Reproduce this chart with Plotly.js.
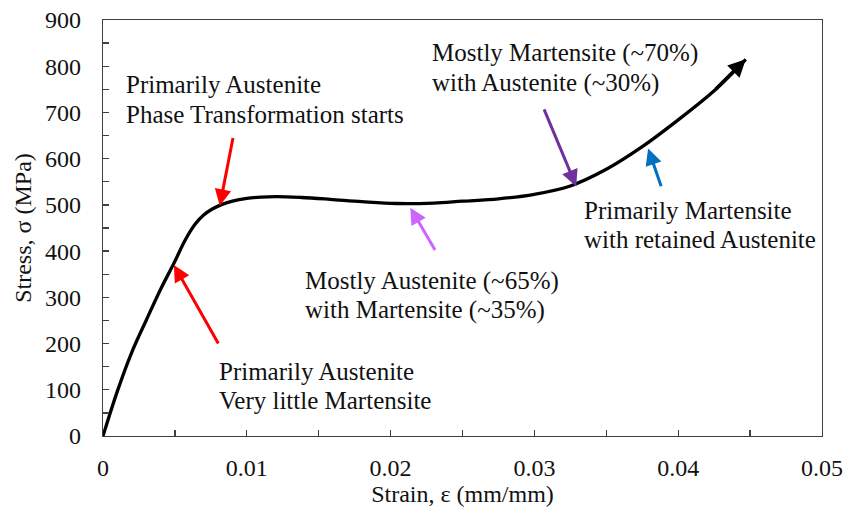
<!DOCTYPE html>
<html>
<head>
<meta charset="utf-8">
<script src="https://cdn.plot.ly/plotly-3.0.1.min.js"></script>
<style>
  html, body { margin: 0; padding: 0; background: #fff; }
  #chart { width: 844px; height: 508px; }
</style>
</head>
<body>
<div id="chart"></div>
<script>
// Stress–strain curve of the shape-memory alloy (engineering strain, stress in MPa)
const strain = [0, 0.0010, 0.0020, 0.0030, 0.0040, 0.0050, 0.0057, 0.0064, 0.0070, 0.0076, 0.0082,
                0.0090, 0.0100, 0.0110, 0.0121, 0.0138, 0.0158, 0.0180, 0.0204, 0.0230,
                0.0250, 0.0275, 0.0300, 0.0325, 0.0350, 0.0375, 0.0400, 0.0425, 0.0447];
const stress = [0, 97, 181, 250, 317, 378, 423, 458, 478, 491, 500,
                508, 514, 517, 518, 516, 512, 507, 503, 504,
                508, 513, 523, 541, 577, 626, 684, 747, 815];

// Phase labels (two lines each), label anchor (strain, stress), arrow tail and tip, arrow colour
const labelLine1 = [
  "Primarily Austenite",
  "Primarily Austenite",
  "Mostly Austenite (~65%)",
  "Mostly Martensite (~70%)",
  "Primarily Martensite"
];
const labelLine2 = [
  "Phase Transformation starts",
  "Very little Martensite",
  "with Martensite (~35%)",
  "with Austenite (~30%)",
  "with retained Austenite"
];
const labelX = [0.00146, 0.0079, 0.01393, 0.02274, 0.03329];
const labelY = [728, 108, 304, 796, 456];
const tailX = [0.00906, 0.00808, 0.02315, 0.03063, 0.03885];
const tailY = [648, 197, 399, 710, 537];
const tipX  = [0.00812, 0.00493, 0.02137, 0.03291, 0.03791];
const tipY  = [498, 370, 494, 540, 622];
const arrowColor = ["#ff0000", "#ff0000", "#cc66ff", "#7030a0", "#0070c0"];

const FONT = "'Liberation Serif', 'Times New Roman', serif";
const LINE_GAP = 14.75;   // half of the line pitch, px
const annotations = [];

labelLine1.forEach((t, i) => {
  [[t, LINE_GAP], [labelLine2[i], -LINE_GAP]].forEach(([txt, shift]) => {
    annotations.push({
      x: labelX[i], y: labelY[i], xref: "x", yref: "y", yshift: shift,
      text: txt, showarrow: false, xanchor: "left", yanchor: "middle", align: "left",
      font: { family: FONT, size: 25, color: "#111" }
    });
  });
  annotations.push({
    x: tipX[i], y: tipY[i], ax: tailX[i], ay: tailY[i],
    xref: "x", yref: "y", axref: "x", ayref: "y",
    text: "", showarrow: true, arrowhead: 2, arrowsize: 1.1, arrowwidth: 3,
    arrowcolor: arrowColor[i]
  });
});

// arrowhead at the end of the loading curve
const n = strain.length;
annotations.push({
  x: strain[n - 1], y: stress[n - 1], ax: strain[n - 2], ay: stress[n - 2],
  xref: "x", yref: "y", axref: "x", ayref: "y",
  text: "", showarrow: true, arrowhead: 2, arrowsize: 1, arrowwidth: 3.5,
  arrowcolor: "#000"
});

const trace = {
  x: strain, y: stress, type: "scatter", mode: "lines",
  line: { color: "#000", width: 3.3, shape: "spline", smoothing: 1 },
  hoverinfo: "skip"
};

const axisCommon = {
  showgrid: false, zeroline: false,
  showline: true, linecolor: "#404040", linewidth: 1.3, mirror: true,
  ticks: "inside", ticklen: 6, tickwidth: 1.3, tickcolor: "#404040",
  tickfont: { family: FONT, size: 24, color: "#111" }
};

const layout = {
  width: 844, height: 508,
  margin: { l: 103, r: 22, t: 20, b: 72 },
  paper_bgcolor: "#fff", plot_bgcolor: "#fff",
  showlegend: false,
  xaxis: Object.assign({}, axisCommon, {
    range: [0, 0.05], dtick: 0.01, tick0: 0,
    minor: { dtick: 0.005, ticks: "inside", ticklen: 6, tickwidth: 1.3, tickcolor: "#404040" },
    ticklabelstandoff: 10,
    title: { text: "Strain, ε (mm/mm)", font: { family: FONT, size: 24, color: "#111" }, standoff: 4 }
  }),
  yaxis: Object.assign({}, axisCommon, {
    range: [0, 900], dtick: 100, tick0: 0,
    minor: { dtick: 50, ticks: "inside", ticklen: 6, tickwidth: 1.3, tickcolor: "#404040" },
    ticklabelstandoff: 16,
    title: { text: "Stress, σ (MPa)", font: { family: FONT, size: 24, color: "#111" }, standoff: 6 }
  }),
  annotations: annotations
};

Plotly.newPlot("chart", [trace], layout, { displayModeBar: false, staticPlot: true });
</script>
</body>
</html>
